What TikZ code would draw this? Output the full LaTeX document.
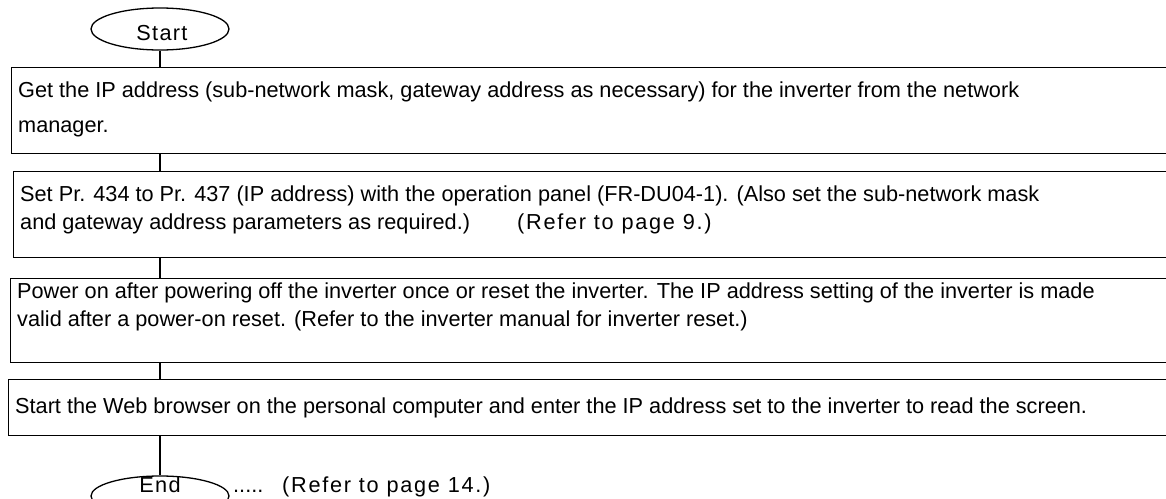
\documentclass[tikz,border=0pt]{standalone}
\usepackage{fontspec}
\setmainfont{Liberation Sans}
\usetikzlibrary{shapes.geometric}
\begin{document}
\begin{tikzpicture}[x=1pt,y=-1pt,
  stepbox/.style={draw, line width=1.3pt, rectangle, anchor=north west, inner sep=0pt, minimum width=1200pt},
  term/.style={draw, line width=1.3pt, ellipse, inner sep=0pt, minimum width=138pt, minimum height=42pt},
  txt/.style={anchor=base west, inner sep=0pt, font=\fontsize{21.7}{26}\selectfont},
  spaced/.style={anchor=base west, inner sep=0pt, font=\fontsize{21.7}{26}\selectfont\addfontfeature{LetterSpace=6}},
  wide/.style={anchor=base west, inner sep=0pt, font=\fontsize{21.7}{26}\selectfont\addfontfeature{LetterSpace=8}},
  conn/.style={line width=1.3pt}]
\useasboundingbox (0,0) rectangle (1166,498);
\clip (0,0) rectangle (1166,498);
% terminals
\node[term] (start) at (160,29) {};
\node[spaced, anchor=base] (starttxt) at (162,40) {Start};
\node[term, minimum height=40pt] (end) at (160,496) {};
\node[spaced, anchor=base] (endtxt) at (160,492) {End};
\node[txt] (dots) at (233,492) {.....};
\node[wide] (ref14) at (282,492) {(Refer to page 14.)};
% boxes
\node[stepbox, minimum height=86pt] (b1) at (11,67) {};
\node[stepbox, minimum height=86pt] (b2) at (13,171) {};
\node[stepbox, minimum height=84pt] (b3) at (10,278) {};
\node[stepbox, minimum height=56pt] (b4) at (8,379) {};
% texts
\node[txt] (t1a) at (18,97) {Get the IP address (sub-network mask, gateway address as necessary) for the inverter from the network};
\node[txt] (t1b) at (18,132) {manager.};
\node[txt] (t2a) at (20,201) {Set Pr. 434 to Pr. 437 (IP address) with the operation panel (FR-DU04-1). (Also set the sub-network mask};
\node[txt] (t2b) at (20,229) {and gateway address parameters as required.)};
\node[wide] (ref9) at (517,229) {(Refer to page 9.)};
\node[txt] (t3a) at (17,298) {Power on after powering off the inverter once or reset the inverter. The IP address setting of the inverter is made};
\node[txt] (t3b) at (17,326) {valid after a power-on reset. (Refer to the inverter manual for inverter reset.)};
\node[txt] (t4) at (15,413) {Start the Web browser on the personal computer and enter the IP address set to the inverter to read the screen.};
% connectors
\draw[conn] (start.south) -- (start.south |- b1.north);
\draw[conn] (b1.south -| start) -- (b2.north -| start);
\draw[conn] (b2.south -| start) -- (b3.north -| start);
\draw[conn] (b3.south -| start) -- (b4.north -| start);
\draw[conn] (b4.south -| start) -- (end.north);
\end{tikzpicture}
\end{document}
